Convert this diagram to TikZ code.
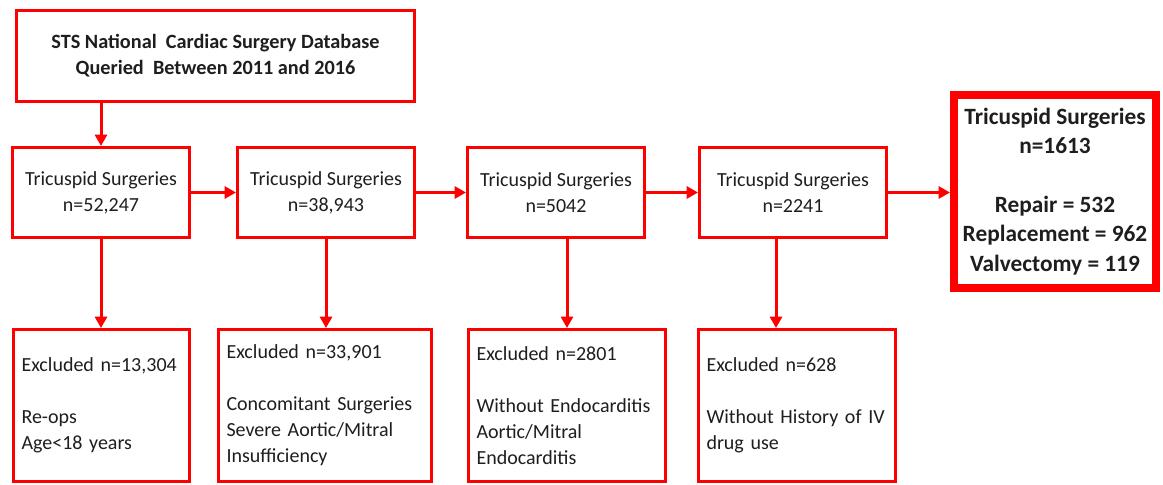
\documentclass[tikz,border=0pt]{standalone}
\usepackage{fontspec}
\setmainfont{Carlito}
\usetikzlibrary{arrows.meta}
\definecolor{rd}{RGB}{255,0,0}
\definecolor{tx}{RGB}{30,30,30}
\begin{document}
\begin{tikzpicture}[x=0.75pt,y=-0.75pt,
  box/.style={draw=rd, fill=white, line width=2.25pt, text=tx, align=center, inner sep=0pt,
    minimum height=67.5pt, font=\fontsize{15}{19.5}\selectfont},
  exbox/.style={draw=rd, fill=white, line width=2.25pt, text=tx, align=left, inner xsep=6pt, inner ysep=0pt,
    minimum height=114pt, font=\fontsize{15}{19.5}\selectfont},
  arr/.style={draw=rd, line width=2.25pt, -{Triangle[length=8.5pt,width=9pt]}}]
\useasboundingbox[fill=white] (0,0) rectangle (1163,485);
\node[box, minimum width=298.5pt, font=\bfseries\fontsize{15.2}{19.5}\selectfont] (top) at (215.5,56)
  {STS National\ \ Cardiac Surgery Database\\ Queried\ \ Between 2011 and 2016};
\node[box, minimum width=132.75pt] (b1) at (101,192.5) {Tricuspid Surgeries\\ n=52,247};
\node[box, minimum width=132.75pt] (b2) at (326,192.5) {Tricuspid Surgeries\\ n=38,943};
\node[box, minimum width=132.75pt] (b3) at (556,192.5) {Tricuspid Surgeries\\ n=5042};
\node[box, minimum width=140.25pt] (b4) at (793,192.5) {Tricuspid Surgeries\\ n=2241};
\node[box, line width=6pt, minimum width=151.5pt, minimum height=144.75pt,
  font=\bfseries\fontsize{17.5}{22}\selectfont] (fin) at (1055,191.5)
  {Tricuspid Surgeries\\ n=1613\\[22pt] Repair = 532\\ Replacement = 962\\ Valvectomy = 119};
\node[exbox, minimum width=132pt, text width=120pt] (e1) at (101.5,405.5)
  {Excluded n=13,304\\[19.5pt] Re-ops\\ Age<18 years};
\node[exbox, minimum width=159.75pt, text width=147.75pt] (e2) at (325,405.5)
  {Excluded n=33,901\\[19.5pt] Concomitant Surgeries\\ Severe Aortic/Mitral\\ Insufficiency};
\node[exbox, minimum width=147.75pt, text width=135.75pt] (e3) at (567,405.5)
  {Excluded n=2801\\[19.5pt] Without Endocarditis\\ Aortic/Mitral\\ Endocarditis};
\node[exbox, minimum width=147.75pt, text width=135.75pt] (e4) at (797,405.5)
  {Excluded n=628\\[19.5pt] Without History of IV\\ drug use};
\draw[arr] (top.south -| b1) -- (b1.north);
\draw[arr] (b1.east) -- (b2.west);
\draw[arr] (b2.east) -- (b3.west);
\draw[arr] (b3.east) -- (b4.west);
\draw[arr] (b4.east) -- (b4.east -| fin.west);
\draw[arr] (b1.south) -- (b1.south |- e1.north);
\draw[arr] (b2.south) -- (b2.south |- e2.north);
\draw[arr] (e3.north |- b3.south) -- (e3.north);
\draw[arr] ([xshift=-12.75pt]b4.south) -- ([xshift=-12.75pt]b4.south |- e4.north);
\end{tikzpicture}
\end{document}
